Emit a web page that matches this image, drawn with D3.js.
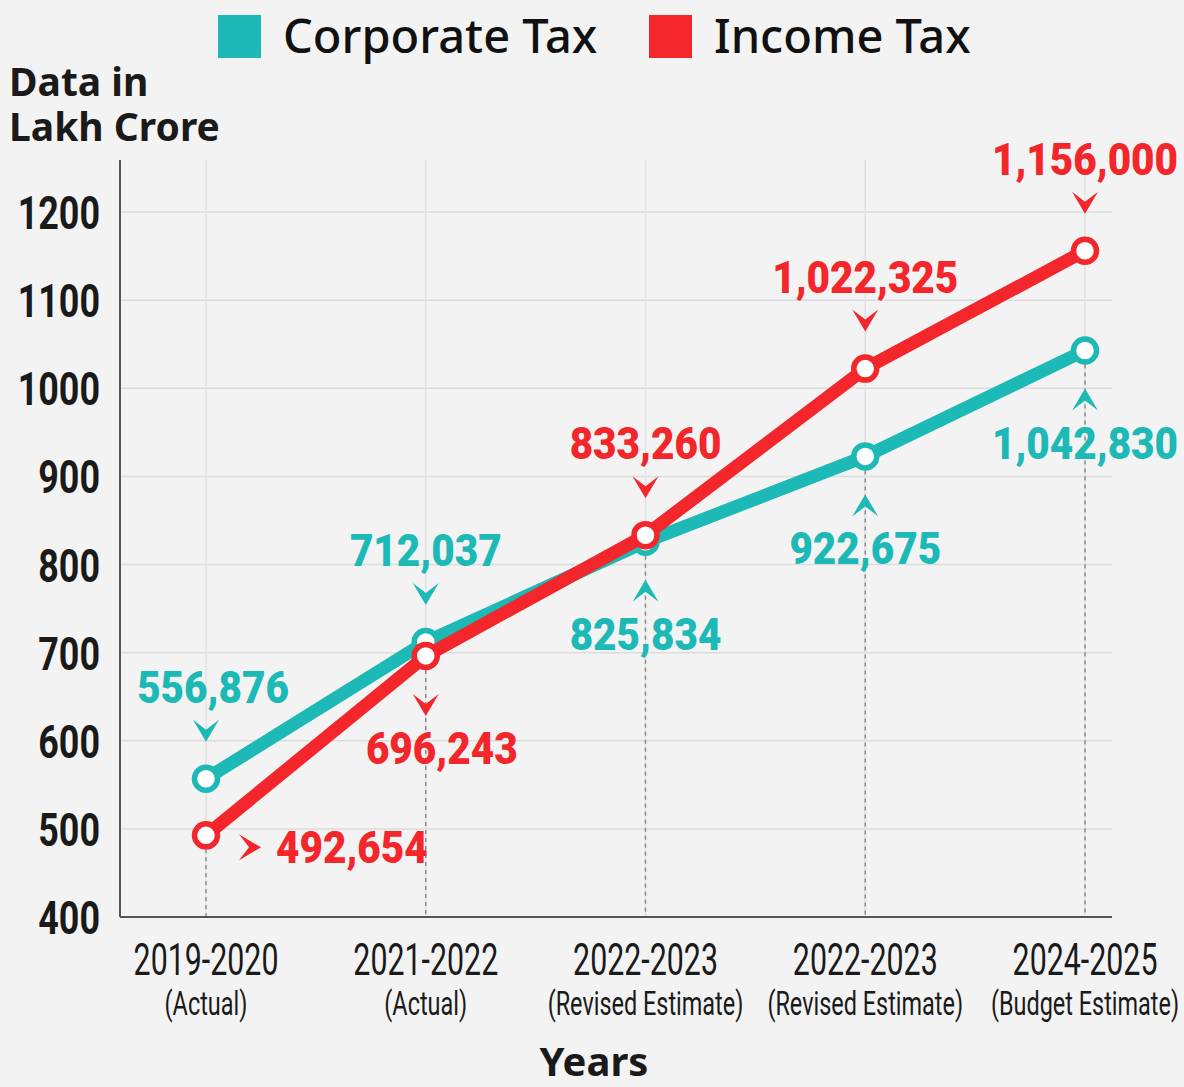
<!DOCTYPE html>
<html>
<head>
<meta charset="utf-8">
<script src="https://cdn.jsdelivr.net/npm/d3@7"></script>
<style>
  body { margin: 0; background: #f3f3f3; }
  svg { display: block; }
</style>
</head>
<body>
<div id="chart"></div>
<script>
// data
const years = ["2019-2020", "2021-2022", "2022-2023", "2022-2023", "2024-2025"];
const yearNotes = ["(Actual)", "(Actual)", "(Revised Estimate)", "(Revised Estimate)", "(Budget Estimate)"];
const corporateTax = [556876, 712037, 825834, 922675, 1042830];
const incomeTax = [492654, 696243, 833260, 1022325, 1156000];
const yTicks = [400, 500, 600, 700, 800, 900, 1000, 1100, 1200];

// where each value label sits and which way its arrow points
const corporateLabelSide = ["above", "above", "below", "below", "below"];
const corporateArrow = ["down", "down", "up", "up", "up"];
const incomeLabelSide = ["right", "below", "above", "above", "above"];
const incomeArrow = ["right", "down", "down", "down", "down"];

const width = 1184, height = 1087;
const teal = "#1db9b6", red = "#f2262b";
const numFont = "Roboto, 'DejaVu Sans', sans-serif";
const textFont = "'Noto Sans', 'Open Sans', sans-serif";

const svg = d3.select("#chart")
    .append("svg")
    .attr("width", width)
    .attr("height", height);

svg.append("rect")
    .attr("width", width)
    .attr("height", height)
    .attr("fill", "#f3f3f3");

const x = d3.scalePoint()
    .domain(d3.range(years.length))
    .range([206, 1085]);

const y = d3.scaleLinear()
    .domain([400, 1200])
    .range([917, 212]);

const axisTop = 160, axisLeft = 120, axisRight = 1112;

// grid
svg.append("g")
    .selectAll("line")
    .data(yTicks.slice(1))
    .join("line")
    .attr("x1", axisLeft)
    .attr("x2", axisRight)
    .attr("y1", d => y(d))
    .attr("y2", d => y(d))
    .attr("stroke", "#dcdcdc")
    .attr("stroke-width", 1.5);

svg.append("g")
    .selectAll("line")
    .data(d3.range(years.length))
    .join("line")
    .attr("x1", d => x(d))
    .attr("x2", d => x(d))
    .attr("y1", axisTop)
    .attr("y2", y(400))
    .attr("stroke", "#e2e2e2")
    .attr("stroke-width", 1.5);

// dashed drop lines under the lower point
svg.append("g")
    .selectAll("line")
    .data(d3.range(years.length))
    .join("line")
    .attr("x1", d => x(d))
    .attr("x2", d => x(d))
    .attr("y1", d => y(Math.min(corporateTax[d], incomeTax[d]) / 1000) + 14)
    .attr("y2", y(400))
    .attr("stroke", "#8a8a8a")
    .attr("stroke-width", 1.5)
    .attr("stroke-dasharray", "4,4");

// y axis, labels squeezed to look condensed
const tickSx = 0.78;
const yAxis = svg.append("g")
    .attr("transform", `translate(${axisLeft},0)`)
    .call(d3.axisLeft(y).tickValues(yTicks).tickFormat(d3.format("d")).tickSize(0).tickPadding(20));
yAxis.select(".domain").remove();
yAxis.selectAll("text")
    .attr("x", -20 / tickSx)
    .attr("dy", "0.36em")
    .attr("transform", `scale(${tickSx},1)`)
    .style("font-family", numFont)
    .style("font-weight", "bold")
    .style("font-size", "46px")
    .attr("fill", "#1a1a1a");

svg.append("line")
    .attr("x1", axisLeft).attr("x2", axisLeft)
    .attr("y1", axisTop).attr("y2", y(400))
    .attr("stroke", "#555").attr("stroke-width", 2);
svg.append("line")
    .attr("x1", axisLeft).attr("x2", axisRight)
    .attr("y1", y(400)).attr("y2", y(400))
    .attr("stroke", "#555").attr("stroke-width", 2);

// x labels
const xSx = 0.69;
const xLabels = svg.append("g")
    .selectAll("g")
    .data(d3.range(years.length))
    .join("g")
    .attr("transform", d => `translate(${x(d)},0) scale(${xSx},1)`);
xLabels.append("text")
    .attr("y", 975)
    .attr("text-anchor", "middle")
    .style("font-family", numFont)
    .style("font-size", "44px")
    .attr("fill", "#1a1a1a")
    .text(d => years[d]);
xLabels.append("text")
    .attr("y", 1015)
    .attr("text-anchor", "middle")
    .style("font-family", numFont)
    .style("font-size", "34px")
    .attr("fill", "#1a1a1a")
    .text(d => yearNotes[d]);

// axis titles
const yTitle = svg.append("text")
    .style("font-family", textFont)
    .style("font-weight", "bold")
    .style("font-size", "39px")
    .attr("fill", "#1a1a1a");
yTitle.append("tspan").attr("x", 9).attr("y", 96).text("Data in");
yTitle.append("tspan").attr("x", 9).attr("y", 141).text("Lakh Crore");

svg.append("text")
    .attr("x", 594)
    .attr("y", 1076)
    .attr("text-anchor", "middle")
    .style("font-family", textFont)
    .style("font-weight", "bold")
    .style("font-size", "40px")
    .attr("fill", "#1a1a1a")
    .text("Years");

// legend
const legendItems = [
    { name: "Corporate Tax", color: teal, x: 218 },
    { name: "Income Tax", color: red, x: 649 }
];
const legend = svg.append("g")
    .selectAll("g")
    .data(legendItems)
    .join("g")
    .attr("transform", d => `translate(${d.x},15)`);
legend.append("rect")
    .attr("width", 43).attr("height", 43)
    .attr("fill", d => d.color);
legend.append("text")
    .attr("x", 65).attr("y", 38)
    .style("font-family", textFont)
    .style("font-weight", 500)
    .style("font-size", "47px")
    .attr("fill", "#111")
    .text(d => d.name);

// lines
const line = d3.line()
    .x((d, i) => x(i))
    .y(d => y(d / 1000));

const chevron = "M-13,-11 L0,-1 L13,-11 L0,11 Z";
const arrowTurn = { down: 0, up: 180, right: -90 };
const fmt = d3.format(",");
const nudge = { "income-1": 16, "corporate-0": 7 };
const labelSx = 0.9;

function drawSeries(values, color, sides, arrows, key) {
    svg.append("path")
        .datum(values)
        .attr("d", line)
        .attr("fill", "none")
        .attr("stroke", color)
        .attr("stroke-width", 13)
        .attr("stroke-linecap", "round")
        .attr("stroke-linejoin", "round");

    svg.append("g")
        .selectAll("circle")
        .data(values)
        .join("circle")
        .attr("cx", (d, i) => x(i))
        .attr("cy", d => y(d / 1000))
        .attr("r", 11.5)
        .attr("fill", "#fff")
        .attr("stroke", color)
        .attr("stroke-width", 5.5);

    const labels = svg.append("g")
        .selectAll("g")
        .data(values)
        .join("g")
        .attr("transform", (d, i) => `translate(${x(i)},${y(d / 1000)})`);

    labels.append("path")
        .attr("d", chevron)
        .attr("fill", color)
        .attr("transform", (d, i) => {
            const s = sides[i];
            const pos = s === "above" ? [0, -48] : s === "below" ? [0, 49] : [44, 12];
            return `translate(${pos}) rotate(${arrowTurn[arrows[i]]})`;
        });

    labels.append("g")
        .attr("transform", (d, i) => {
            const s = sides[i];
            const pos = s === "above" ? [nudge[key + "-" + i] || 0, -76]
                : s === "below" ? [nudge[key + "-" + i] || 0, 108] : [70, 28];
            return `translate(${pos}) scale(${labelSx},1)`;
        })
        .append("text")
        .attr("text-anchor", (d, i) => sides[i] === "right" ? "start" : "middle")
        .style("font-family", numFont)
        .style("font-weight", 900)
        .style("font-size", "45px")
        .attr("fill", color)
        .text(d => fmt(d));
}

drawSeries(corporateTax, teal, corporateLabelSide, corporateArrow, "corporate");
drawSeries(incomeTax, red, incomeLabelSide, incomeArrow, "income");
</script>
</body>
</html>
